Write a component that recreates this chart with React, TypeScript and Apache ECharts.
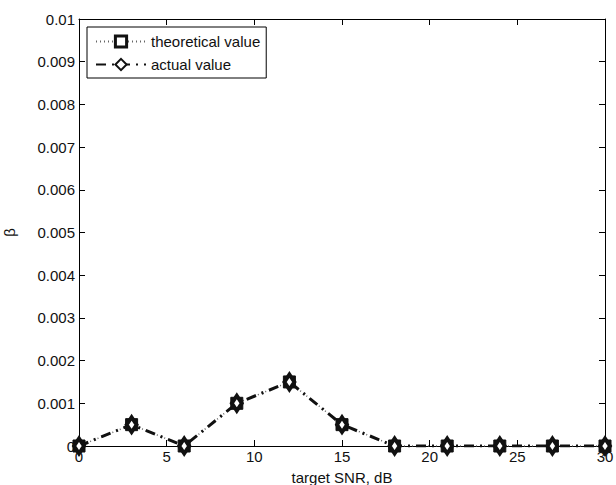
import React, { useEffect, useRef } from "react";
import * as echarts from "echarts";

const snr = [0, 3, 6, 9, 12, 15, 18, 21, 24, 27, 30];
const theoretical = [0, 0.0005, 0, 0.001, 0.0015, 0.0005, 0, 0, 0, 0, 0];
const actual = [0, 0.0005, 0, 0.001, 0.0015, 0.0005, 0, 0, 0, 0, 0];
const xTicks = [0, 5, 10, 15, 20, 25, 30];
const yTicks = [0, 0.001, 0.002, 0.003, 0.004, 0.005, 0.006, 0.007, 0.008, 0.009, 0.01];

const FONT = "'Liberation Sans', Arial, sans-serif";

export default function App() {
  const ref = useRef<HTMLDivElement>(null);
  useEffect(() => {
    const chart = echarts.init(ref.current!, null, { renderer: "svg" });
    const axisLine = { show: true, onZero: false, lineStyle: { color: "#000", width: 1 } };
    const tick = { show: true, inside: true, length: 6, lineStyle: { color: "#000" } };
    const fmtY = (v: number) => {
      if (Math.abs(v) < 1e-12) return "0";
      return String(Math.round(v * 1000) / 1000);
    };
    chart.setOption({
      animation: false,
      backgroundColor: "#fff",
      grid: { left: 79, right: 11, top: 19, bottom: 39, containLabel: false, outerBoundsMode: "none" },
      legend: {
        left: 87,
        top: 27,
        orient: "vertical",
        backgroundColor: "#fff",
        borderColor: "#000",
        borderWidth: 1,
        borderRadius: 0,
        padding: [7, 6, 6, 8],
        itemGap: 8,
        itemWidth: 50,
        itemHeight: 14,
        textStyle: { fontFamily: FONT, fontSize: 15, color: "#111" },
        data: [
          { name: "theoretical value", itemStyle: { color: "#fff", borderColor: "#111", borderWidth: 3 } },
          { name: "actual value" },
        ],
      },
      xAxis: [
        {
          type: "value",
          min: 0,
          max: 30,
          interval: 5,
          axisLine,
          axisTick: tick,
          axisLabel: { color: "#111", fontFamily: FONT, fontSize: 15, margin: 3, formatter: (v: number) => (xTicks.includes(v) ? String(v) : "") },
          splitLine: { show: false },
          name: "target SNR, dB",
          nameLocation: "middle",
          nameGap: 24,
          nameTextStyle: { color: "#111", fontFamily: FONT, fontSize: 15 },
        },
        {
          type: "value",
          position: "top",
          min: 0,
          max: 30,
          interval: 5,
          axisLine,
          axisTick: tick,
          axisLabel: { show: false },
          splitLine: { show: false },
        },
      ],
      yAxis: [
        {
          type: "value",
          min: 0,
          max: 0.01,
          interval: 0.001,
          axisLine,
          axisTick: tick,
          axisLabel: { color: "#111", fontFamily: FONT, fontSize: 15, margin: 4, formatter: (v: number) => (yTicks.some((t) => Math.abs(t - v) < 1e-9) ? fmtY(v) : "") },
          splitLine: { show: false },
          name: "β",
          nameLocation: "middle",
          nameGap: 62,
          nameRotate: 90,
          nameTextStyle: { color: "#111", fontFamily: FONT, fontSize: 15 },
        },
        {
          type: "value",
          position: "right",
          min: 0,
          max: 0.01,
          interval: 0.001,
          axisLine,
          axisTick: tick,
          axisLabel: { show: false },
          splitLine: { show: false },
        },
      ],
      series: [
        {
          name: "theoretical value",
          type: "line",
          xAxisIndex: 0,
          yAxisIndex: 0,
          data: snr.map((x, i) => [x, theoretical[i]]),
          symbol: "rect",
          symbolSize: 12,
          itemStyle: { color: "#111", borderColor: "#111", borderWidth: 1 },
          lineStyle: { color: "#666", width: 1.5, type: [1, 3] },
          z: 2,
        },
        {
          name: "actual value",
          type: "line",
          xAxisIndex: 0,
          yAxisIndex: 0,
          data: snr.map((x, i) => [x, actual[i]]),
          symbol: "diamond",
          symbolSize: [10, 15],
          itemStyle: { color: "#fff", borderColor: "#111", borderWidth: 4 },
          lineStyle: { color: "#111", width: 3, type: [10, 6, 2, 6] },
          z: 3,
        },
      ],
    });
    return () => chart.dispose();
  }, []);
  return <div ref={ref} style={{ position: "fixed", left: 0, top: 0, width: 616, height: 485 }} />;
}
